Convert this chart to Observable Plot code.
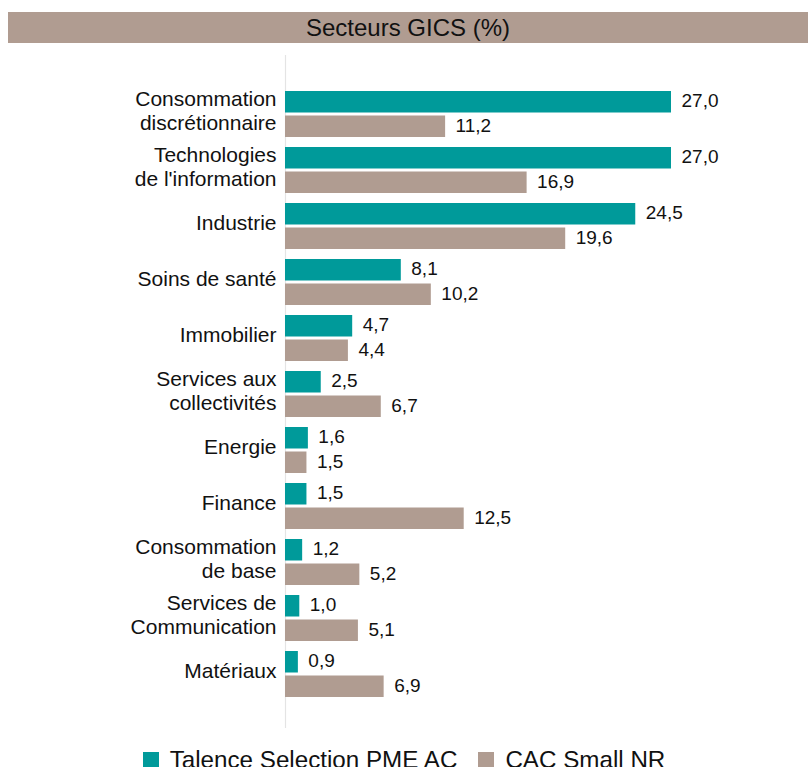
<!DOCTYPE html>
<html>
<head>
<meta charset="utf-8">
<script src="https://cdn.jsdelivr.net/npm/d3@7"></script>
<script src="https://cdn.jsdelivr.net/npm/@observablehq/plot@0.6"></script>
<style>
  html, body { margin: 0; padding: 0; background: #fff; }
  body { width: 808px; height: 767px; overflow: hidden; position: relative; font-family: "Liberation Sans", Arial, sans-serif; }
  #title { position: absolute; left: 8px; top: 12px; width: 800px; height: 31px; background: #b09c91; color: #111; font-size: 24px; line-height: 31px; text-align: center; }
  #chart { position: absolute; left: 0; top: 0; }
  #legend { position: absolute; left: 0; top: 745px; width: 808px; height: 30px; display: flex; justify-content: center; align-items: center; font-size: 24.2px; color: #111; }
  .item { display: flex; align-items: center; margin: 0 10.5px; }
  .sw { width: 16px; height: 16px; margin-right: 11px; }
</style>
</head>
<body>
<div id="title">Secteurs GICS (%)</div>
<div id="chart"></div>
<div id="legend"></div>
<script>
const categories = [
  "Consommation\ndiscrétionnaire",
  "Technologies\nde l'information",
  "Industrie",
  "Soins de santé",
  "Immobilier",
  "Services aux\ncollectivités",
  "Energie",
  "Finance",
  "Consommation\nde base",
  "Services de\nCommunication",
  "Matériaux"
];
const seriesNames = ["Talence Selection PME AC", "CAC Small NR"];
const fund = [27.0, 27.0, 24.5, 8.1, 4.7, 2.5, 1.6, 1.5, 1.2, 1.0, 0.9];
const index = [11.2, 16.9, 19.6, 10.2, 4.4, 6.7, 1.5, 12.5, 5.2, 5.1, 6.9];
const colors = ["#009a9a", "#b09c91"];

const rows = categories.map((c, i) => ({cat: c, fund: fund[i], index: index[i]}));
const fmt = v => v.toFixed(1).replace(".", ",");

const plot = Plot.plot({
  width: 808,
  height: 745,
  marginTop: 58,
  marginBottom: 15,
  marginLeft: 285,
  marginRight: 137,
  style: {fontFamily: '"Liberation Sans", Arial, sans-serif', color: "#111", background: "transparent"},
  x: {domain: [0, 27], axis: null},
  y: {domain: categories, axis: null, paddingInner: 0.18, paddingOuter: 0.572},
  marks: [
    Plot.ruleX([0], {stroke: "#e4e4e4", strokeWidth: 1.2, insetTop: -3, insetBottom: 2}),
    Plot.barX(rows, {x: "fund", y: "cat", fill: colors[0], insetBottom: 24.5}),
    Plot.barX(rows, {x: "index", y: "cat", fill: colors[1], insetTop: 24.5}),
    Plot.text(rows, {x: "fund", y: "cat", text: d => fmt(d.fund), dy: -14, dx: 10, textAnchor: "start", fontSize: 19, fill: "#111"}),
    Plot.text(rows, {x: "index", y: "cat", text: d => fmt(d.index), dy: 11, dx: 10, textAnchor: "start", fontSize: 19, fill: "#111"}),
    Plot.text(rows, {x: 0, y: "cat", text: "cat", dx: -9, dy: -4, textAnchor: "end", fontSize: 21, lineHeight: 1.12, fill: "#111", ariaLabel: "cat-labels"})
  ]
});
document.getElementById("chart").appendChild(plot);

// center multi-line category labels within their block
plot.querySelectorAll('g[aria-label="cat-labels"] text').forEach(t => {
  const spans = Array.from(t.querySelectorAll("tspan"));
  if (spans.length > 1) {
    const w = spans.map(s => s.getComputedTextLength());
    const W = Math.max(...w);
    spans.forEach((s, i) => s.setAttribute("dx", -(W - w[i]) / 2));
  }
});

const legend = document.getElementById("legend");
seriesNames.forEach((n, i) => {
  const it = document.createElement("div");
  it.className = "item";
  const sw = document.createElement("div");
  sw.className = "sw";
  sw.style.background = colors[i];
  const tx = document.createElement("span");
  tx.textContent = n;
  it.appendChild(sw); it.appendChild(tx);
  legend.appendChild(it);
});
</script>
</body>
</html>
